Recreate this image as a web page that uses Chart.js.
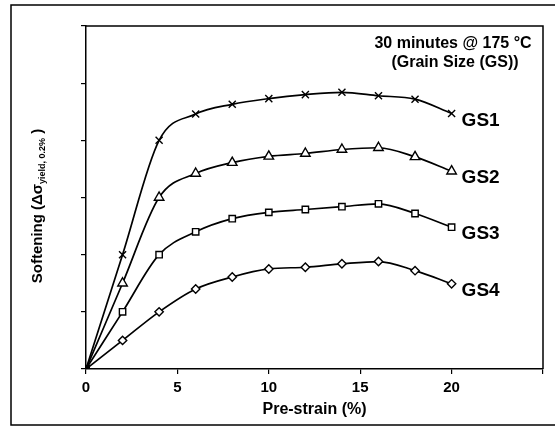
<!DOCTYPE html>
<html>
<head>
<meta charset="utf-8">
<script src="https://cdn.jsdelivr.net/npm/chart.js@4/dist/chart.umd.min.js"></script>
<style>
  html, body { margin: 0; padding: 0; background: #fff; }
  #wrap { width: 555px; height: 428px; position: relative; }
</style>
</head>
<body>
<div id="wrap"><canvas id="graf"></canvas></div>
<script>
// pre-strain (%)
const preStrain = [0, 2, 4, 6, 8, 10, 12, 14, 16, 18, 20];
// softening
const gs1 = [0, 2.0, 4.0, 4.46, 4.63, 4.73, 4.80, 4.84, 4.78, 4.72, 4.47];
const gs2 = [0, 1.5, 3.0, 3.42, 3.61, 3.72, 3.77, 3.84, 3.87, 3.71, 3.46];
const gs3 = [0, 1.0, 2.0, 2.40, 2.63, 2.74, 2.79, 2.84, 2.89, 2.72, 2.48];
const gs4 = [0, 0.5, 1.0, 1.40, 1.61, 1.75, 1.78, 1.84, 1.88, 1.72, 1.49];
const serieNames = ["GS1", "GS2", "GS3", "GS4"];
const xTickLabels = ["0", "5", "10", "15", "20"];
const titleLines = ["30 minutes @ 175 \u00B0C", "(Grain Size (GS))"];
const xTitle = "Pre-strain (%)";

const FONT = "'Liberation Sans', Arial, sans-serif";

const toXY = (ys) => ys.map((y, i) => ({ x: preStrain[i], y: y }));

const marcador = (style, r) => ({
  pointStyle: (ctx) => (ctx.dataIndex === 0 ? "rect" : style),
  pointRadius: (ctx) => (ctx.dataIndex === 0 ? 4.5 : r),
  pointBackgroundColor: (ctx) => (ctx.dataIndex === 0 ? "#000" : "#fff"),
  pointBorderColor: "#000",
  pointBorderWidth: 1.4,
});

const serie = (name, ys, style, r) => ({
  label: name,
  data: toXY(ys),
  borderColor: "#000",
  borderWidth: 1.7,
  cubicInterpolationMode: "monotone",
  ...marcador(style, r),
});

// frame, plot box, title, labels and y title with subscript
const extras = {
  id: "extras",
  beforeDraw(chart) {
    const c = chart.ctx;
    c.save();
    c.fillStyle = "#fff";
    c.fillRect(0, 0, chart.width, chart.height);
    c.strokeStyle = "#000";
    c.lineWidth = 1.5;
    c.strokeRect(11, 5, 560, 420);
    c.restore();
  },
  afterDraw(chart) {
    const c = chart.ctx;
    const a = chart.chartArea;
    const xs = chart.scales.x;
    const ys = chart.scales.y;
    c.save();
    c.strokeStyle = "#000";
    c.lineWidth = 1.5;
    c.beginPath();
    c.moveTo(a.left, a.top);
    c.lineTo(a.right, a.top);
    c.lineTo(a.right, a.bottom);
    c.stroke();

    c.fillStyle = "#000";
    c.textBaseline = "middle";
    c.textAlign = "center";
    c.font = "bold 16px " + FONT;
    c.fillText(titleLines[0], 453, 44);
    c.fillText(titleLines[1], 455, 63);

    // series labels next to the last point
    c.textAlign = "left";
    c.font = "bold 19px " + FONT;
    const last = [gs1, gs2, gs3, gs4];
    last.forEach((arr, i) => {
      const px = xs.getPixelForValue(preStrain[preStrain.length - 1]) + 10;
      const py = ys.getPixelForValue(arr[arr.length - 1]) + 7;
      c.fillText(serieNames[i], px, py);
    });

    // y axis title, rotated, with subscript
    c.translate(38, 206);
    c.rotate(-Math.PI / 2);
    const main1 = "Softening (\u0394\u03C3";
    const sub = "yield, 0.2%";
    const main2 = " )";
    c.font = "bold 15px " + FONT;
    const w1 = c.measureText(main1).width;
    const w3 = c.measureText(main2).width;
    c.font = "bold 9px " + FONT;
    const w2 = c.measureText(sub).width;
    let x0 = -(w1 + w2 + w3) / 2;
    c.textAlign = "left";
    c.font = "bold 15px " + FONT;
    c.fillText(main1, x0, 0);
    c.font = "bold 9px " + FONT;
    c.fillText(sub, x0 + w1, 5);
    c.font = "bold 15px " + FONT;
    c.fillText(main2, x0 + w1 + w2, 0);
    c.restore();
  },
};

new Chart(document.getElementById("graf"), {
  type: "line",
  data: {
    datasets: [
      serie(serieNames[0], gs1, "crossRot", 5),
      serie(serieNames[1], gs2, "triangle", 5.5),
      serie(serieNames[2], gs3, "rect", 4.5),
      serie(serieNames[3], gs4, "rectRot", 4.2),
    ],
  },
  options: {
    responsive: true,
    maintainAspectRatio: false,
    animation: false,
    layout: { padding: { left: 0, top: 26, right: 12, bottom: 0 } },
    plugins: {
      legend: { display: false },
      tooltip: { enabled: false },
    },
    scales: {
      x: {
        type: "linear",
        min: 0,
        max: 25,
        afterFit: (s) => { s.height = 59; },
        ticks: {
          stepSize: 5,
          color: "#000",
          font: { family: FONT, size: 15, weight: "bold" },
          padding: 5,
          maxRotation: 0,
          callback: (v) => (xTickLabels.includes(String(v)) ? String(v) : ""),
        },
        grid: { drawOnChartArea: false, color: "#000", tickLength: 5, lineWidth: 1.2 },
        border: { color: "#000", width: 1.5 },
        title: {
          display: true,
          text: xTitle,
          color: "#000",
          font: { family: FONT, size: 16, weight: "bold" },
          padding: { top: 0, bottom: 9 },
        },
      },
      y: {
        min: 0,
        max: 6,
        afterFit: (s) => { s.width = 86; },
        ticks: { stepSize: 1, display: false },
        grid: { drawOnChartArea: false, color: "#000", tickLength: 5, lineWidth: 1.2 },
        border: { color: "#000", width: 1.5 },
      },
    },
  },
  plugins: [extras],
});
</script>
</body>
</html>
